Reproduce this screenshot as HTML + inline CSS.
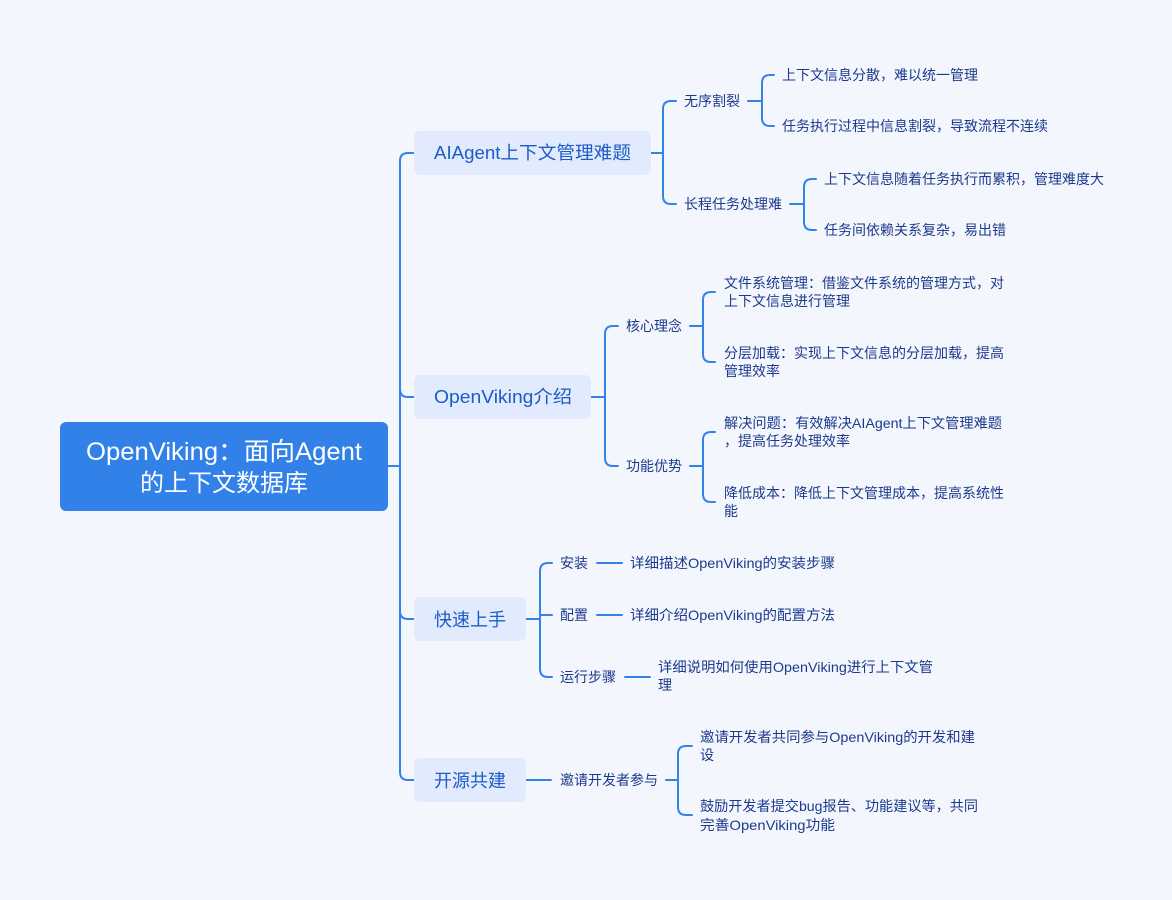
<!DOCTYPE html>
<html><head><meta charset="utf-8"><style>
html,body{margin:0;padding:0;background:#f4f6fd;}
svg{display:block;}
text{font-family:"Liberation Sans","Noto Sans CJK SC",sans-serif;}
.l{font-size:14px;fill:#1c3a8c;}
.m{font-size:18px;fill:#1d5cc7;}
</style></head><body>
<svg width="1172" height="900" viewBox="0 0 1172 900" xmlns="http://www.w3.org/2000/svg">
<rect width="1172" height="900" fill="#f4f6fd"/>
<g fill="none" stroke="#3382e9" stroke-width="2" stroke-linecap="round">
<path d="M388 466H400M400 161V772M400 161Q400 153 408 153H414M400 389Q400 397 408 397H414M400 611Q400 619 408 619H414M400 772Q400 780 408 780H414"/>
<path d="M650 153H663M663 109V196M663 109Q663 101 671 101H676M663 196Q663 204 671 204H676"/>
<path d="M748 101H762M762 83V118M762 83Q762 75 770 75H774M762 118Q762 126 770 126H774"/>
<path d="M790 204H804M804 187V222M804 187Q804 179 812 179H816M804 222Q804 230 812 230H816"/>
<path d="M591 397H605M605 334V458M605 334Q605 326 613 326H618M605 458Q605 466 613 466H618"/>
<path d="M690 326H703M703 300V354M703 300Q703 292 711 292H715M703 354Q703 362 711 362H715"/>
<path d="M690 466H703M703 440V494M703 440Q703 432 711 432H715M703 494Q703 502 711 502H715"/>
<path d="M526 619H540M540 571V669M540 571Q540 563 548 563H552M540 615H552M540 669Q540 677 548 677H552"/>
<path d="M597 563H622M597 615H622M625 677H650"/>
<path d="M526 780H551M666 780H678M678 754V807M678 754Q678 746 686 746H692M678 807Q678 815 686 815H692"/>
</g>
<rect x="60" y="422" width="328" height="89" rx="6" fill="#3181e8"/>
<text x="86" y="460" font-size="25" fill="#fff" textLength="276" lengthAdjust="spacingAndGlyphs">OpenViking：面向Agent</text>
<text x="224" y="491" text-anchor="middle" font-size="24" fill="#fff">的上下文数据库</text>
<rect x="414" y="131" width="237" height="44" rx="6" fill="#e2eafd"/>
<text class="m" x="434" y="159" textLength="197" lengthAdjust="spacingAndGlyphs">AIAgent上下文管理难题</text>
<rect x="414" y="375" width="177" height="44" rx="6" fill="#e2eafd"/>
<text class="m" x="434" y="403" textLength="138" lengthAdjust="spacingAndGlyphs">OpenViking介绍</text>
<rect x="414" y="597" width="112" height="44" rx="6" fill="#e2eafd"/>
<text class="m" x="434" y="626">快速上手</text>
<rect x="414" y="758" width="112" height="44" rx="6" fill="#e2eafd"/>
<text class="m" x="434" y="787">开源共建</text>
<text class="l" x="684" y="106">无序割裂</text>
<text class="l" x="684" y="209">长程任务处理难</text>
<text class="l" x="626" y="331">核心理念</text>
<text class="l" x="626" y="471">功能优势</text>
<text class="l" x="560" y="568">安装</text>
<text class="l" x="560" y="620">配置</text>
<text class="l" x="560" y="682">运行步骤</text>
<text class="l" x="560" y="785">邀请开发者参与</text>
<text class="l" x="782" y="80">上下文信息分散，难以统一管理</text>
<text class="l" x="782" y="131">任务执行过程中信息割裂，导致流程不连续</text>
<text class="l" x="824" y="184">上下文信息随着任务执行而累积，管理难度大</text>
<text class="l" x="824" y="235">任务间依赖关系复杂，易出错</text>
<text class="l" x="724" y="288">文件系统管理：借鉴文件系统的管理方式，对</text>
<text class="l" x="724" y="306">上下文信息进行管理</text>
<text class="l" x="724" y="358">分层加载：实现上下文信息的分层加载，提高</text>
<text class="l" x="724" y="376">管理效率</text>
<text class="l" x="724" y="428" textLength="278" lengthAdjust="spacingAndGlyphs">解决问题：有效解决AIAgent上下文管理难题</text>
<text class="l" x="724" y="446">，提高任务处理效率</text>
<text class="l" x="724" y="498">降低成本：降低上下文管理成本，提高系统性</text>
<text class="l" x="724" y="516">能</text>
<text class="l" x="630" y="568" textLength="205" lengthAdjust="spacingAndGlyphs">详细描述OpenViking的安装步骤</text>
<text class="l" x="630" y="620" textLength="205" lengthAdjust="spacingAndGlyphs">详细介绍OpenViking的配置方法</text>
<text class="l" x="658" y="672" textLength="275" lengthAdjust="spacingAndGlyphs">详细说明如何使用OpenViking进行上下文管</text>
<text class="l" x="658" y="690">理</text>
<text class="l" x="700" y="742" textLength="275" lengthAdjust="spacingAndGlyphs">邀请开发者共同参与OpenViking的开发和建</text>
<text class="l" x="700" y="760">设</text>
<text class="l" x="700" y="811" textLength="278" lengthAdjust="spacingAndGlyphs">鼓励开发者提交bug报告、功能建议等，共同</text>
<text class="l" x="700" y="830" textLength="135" lengthAdjust="spacingAndGlyphs">完善OpenViking功能</text>
</svg>
</body></html>
